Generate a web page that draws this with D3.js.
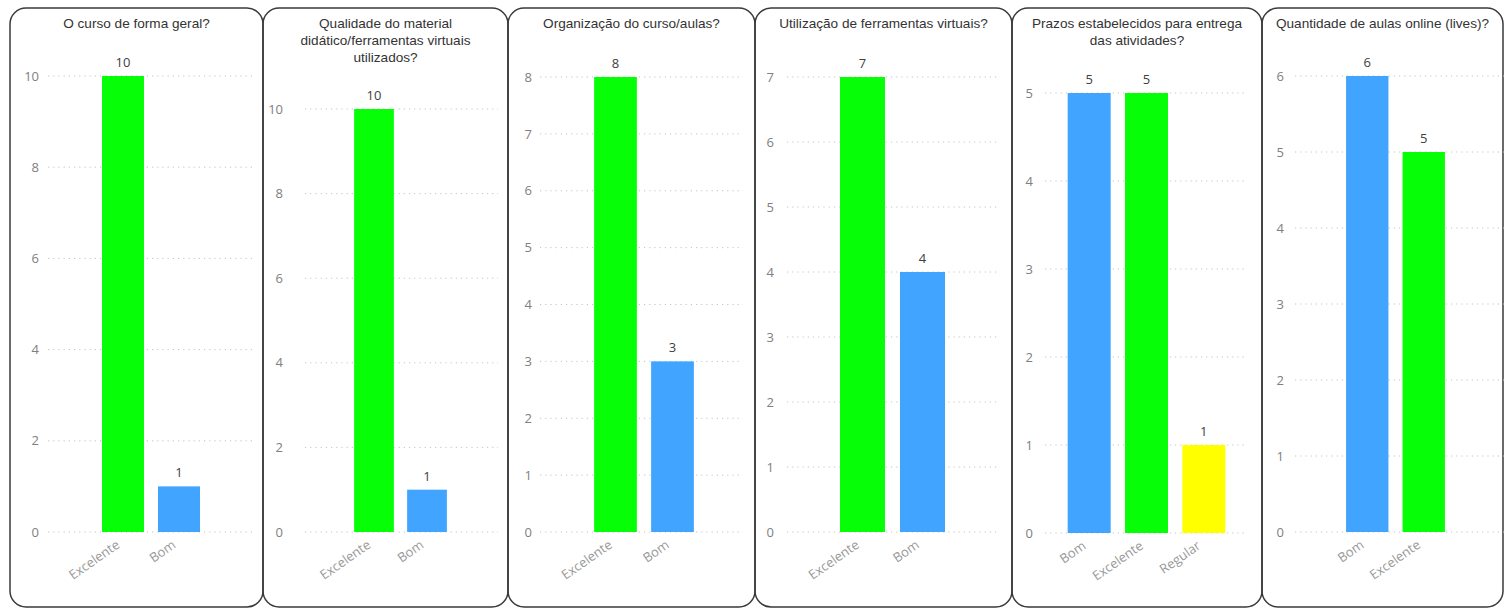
<!DOCTYPE html>
<html><head><meta charset="utf-8">
<script src="https://cdn.jsdelivr.net/npm/d3@7"></script>
<style>
html,body{margin:0;padding:0;background:#fff;}
svg{display:block;}
</style></head>
<body>
<svg id="chart" width="1504" height="609"></svg>
<script>
// ---- data ----
const titles = [
  ["O curso de forma geral?"],
  ["Qualidade do material", "didático/ferramentas virtuais", "utilizados?"],
  ["Organização do curso/aulas?"],
  ["Utilização de ferramentas virtuais?"],
  ["Prazos estabelecidos para entrega", "das atividades?"],
  ["Quantidade de aulas online (lives)?"]
];
const categories1 = ["Excelente", "Bom"];
const values1 = [10, 1];
const categories2 = ["Excelente", "Bom"];
const values2 = [10, 1];
const categories3 = ["Excelente", "Bom"];
const values3 = [8, 3];
const categories4 = ["Excelente", "Bom"];
const values4 = [7, 4];
const categories5 = ["Bom", "Excelente", "Regular"];
const values5 = [5, 5, 1];
const categories6 = ["Bom", "Excelente"];
const values6 = [6, 5];
const yMaxes = [10, 10, 8, 7, 5, 6];
const tickSteps = [2, 2, 1, 1, 1, 1];
const colorByCategory = {Excelente: "#06FF06", Bom: "#41A4FF", Regular: "#FFFF00"};

const allCats = [categories1, categories2, categories3, categories4, categories5, categories6];
const allVals = [values1, values2, values3, values4, values5, values6];

// ---- layout (pixels) ----
const panelEdges = [10, 263, 508, 755, 1012, 1262, 1503];
const panelTop = 8, panelBottom = 607;
const layout = [
  {gx0: 48,   gx1: 253,  yTop: 76,  yBot: 532, bx0: 95,     bx1: 207,    tickX: 39},
  {gx0: 305,  gx1: 498,  yTop: 109, yBot: 532, bx0: 347.5,  bx1: 453.5,  tickX: 283},
  {gx0: 540,  gx1: 743,  yTop: 77,  yBot: 532, bx0: 587,    bx1: 701,    tickX: 532},
  {gx0: 787,  gx1: 997,  yTop: 77,  yBot: 532, bx0: 832.5,  bx1: 952.5,  tickX: 774},
  {gx0: 1045, gx1: 1247, yTop: 93,  yBot: 533, bx0: 1060.5, bx1: 1232.5, tickX: 1033},
  {gx0: 1295, gx1: 1510, yTop: 76,  yBot: 532, bx0: 1339,   bx1: 1452,   tickX: 1284}
];

const svg = d3.select("#chart");

// panel borders
for (let i = 0; i < 6; i++) {
  svg.append("rect")
    .attr("x", panelEdges[i]).attr("y", panelTop)
    .attr("width", panelEdges[i+1] - panelEdges[i])
    .attr("height", panelBottom - panelTop)
    .attr("rx", 16).attr("ry", 16)
    .attr("fill", "none").attr("stroke", "#3a3a3a").attr("stroke-width", 1.5);
}

for (let i = 0; i < 6; i++) {
  const L = layout[i];
  const cats = allCats[i], vals = allVals[i];
  const g = svg.append("g");
  const cx = (panelEdges[i] + panelEdges[i+1]) / 2;

  // title
  const t = g.append("text")
    .attr("font-family", "Liberation Sans, Arial, sans-serif")
    .attr("font-size", 13.6).attr("fill", "#333")
    .attr("text-anchor", "middle");
  titles[i].forEach((line, k) => {
    t.append("tspan").attr("x", cx).attr("y", 28 + k * 17).text(line);
  });

  const y = d3.scaleLinear().domain([0, yMaxes[i]]).range([L.yBot, L.yTop]);
  const x = d3.scaleBand().domain(cats).range([L.bx0, L.bx1]).paddingInner(0.25).paddingOuter(0.125);
  const ticks = d3.range(0, yMaxes[i] + 0.001, tickSteps[i]);

  // gridlines
  g.selectAll(".grid").data(ticks).join("line")
    .attr("x1", L.gx0).attr("x2", L.gx1)
    .attr("y1", d => y(d)).attr("y2", d => y(d))
    .attr("stroke", "#c4c4c4").attr("stroke-width", 1)
    .attr("stroke-dasharray", "1.2,4");

  // y tick labels
  const yAxis = d3.axisLeft(y).tickValues(ticks).tickSize(0).tickPadding(0).tickFormat(d3.format("d"));
  const ya = g.append("g").attr("transform", `translate(${L.tickX},0)`).call(yAxis);
  ya.select(".domain").remove();
  ya.selectAll("text")
    .attr("font-family", "Open Sans, Noto Sans, sans-serif")
    .attr("font-size", 13).attr("fill", "#808080");

  // bars
  g.selectAll(".bar").data(cats).join("rect")
    .attr("x", d => x(d)).attr("width", x.bandwidth())
    .attr("y", (d, j) => y(vals[j]))
    .attr("height", (d, j) => y(0) - y(vals[j]))
    .attr("fill", d => colorByCategory[d]);

  // value labels
  g.selectAll(".lbl").data(cats).join("text")
    .attr("x", d => x(d) + x.bandwidth() / 2)
    .attr("y", (d, j) => y(vals[j]) - 9)
    .attr("text-anchor", "middle")
    .attr("font-family", "Open Sans, Noto Sans, sans-serif")
    .attr("font-size", 13).attr("fill", "#404040")
    .text((d, j) => vals[j]);

  // x axis labels
  const xAxis = d3.axisBottom(x).tickSize(0).tickPadding(0);
  const xa = g.append("g").attr("transform", `translate(0,${L.yBot})`).call(xAxis);
  xa.select(".domain").remove();
  xa.selectAll("text")
    .attr("font-family", "Open Sans, Noto Sans, sans-serif")
    .attr("font-size", 13).attr("fill", "#999")
    .attr("text-anchor", "end")
    .attr("transform", "translate(-5,11) rotate(-35)")
    .attr("dy", "0.35em").attr("y", 0);
}
</script>
</body></html>
